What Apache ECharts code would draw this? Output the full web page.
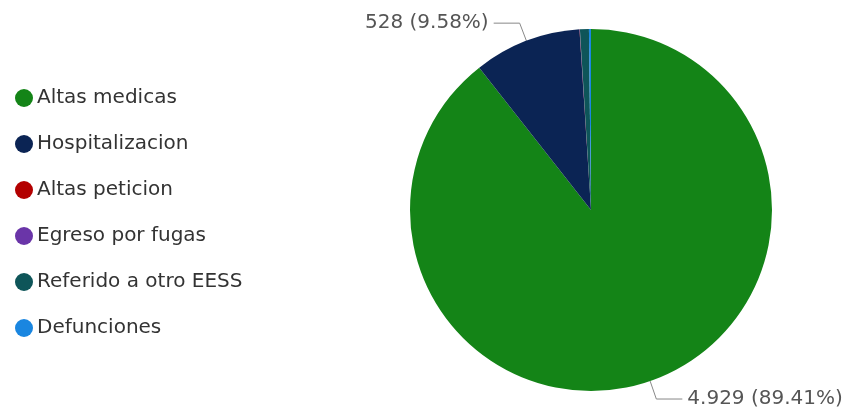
<!DOCTYPE html>
<html><head><meta charset="utf-8">
<script src="https://cdn.jsdelivr.net/npm/echarts@6/dist/echarts.min.js"></script>
<style>html,body{margin:0;padding:0;background:#fff}#c{width:843px;height:408px}</style>
</head><body><div id="c"></div>
<script>
const categories = ['Altas medicas','Hospitalizacion','Altas peticion','Egreso por fugas','Referido a otro EESS','Defunciones'];
const values = [4929, 528, 1, 1, 44, 10];
const colors = ['#148417','#0b2454','#b30000','#6a35a8','#0e5559','#1a86e0'];
const labeled = ['Altas medicas','Hospitalizacion'];

const total = values.reduce((a,b)=>a+b,0);
function fmt(n){return String(n).replace(/\B(?=(\d{3})+(?!\d))/g,'.');}
const data = categories.map((name,i)=>{
  const show = labeled.includes(name);
  return {name, value: values[i], itemStyle:{color:colors[i]},
    label:{show}, labelLine:{show}};
});
const chart = echarts.init(document.getElementById('c'));
chart.setOption({
  animation:false,
  legend:{orient:'vertical', left:10, top:83, itemGap:26, itemWidth:18, itemHeight:18,
    icon:'circle', itemStyle:{borderWidth:0},
    textStyle:{fontSize:20, color:'#333', fontFamily:'"DejaVu Sans"', padding:[0,0,0,-1]},
    data: categories},
  series:[{type:'pie', center:[591,210], radius:[0,181], startAngle:90, clockwise:true,
    data, avoidLabelOverlap:false,
    itemStyle:{borderWidth:0},
    label:{fontSize:20, color:'#555', fontFamily:'"DejaVu Sans"',
      formatter:p=>fmt(p.value)+' ('+(p.value/total*100).toFixed(2)+'%)'},
    labelLine:{length:19, length2:26, lineStyle:{color:'#888', width:1}}
  }]
});
</script></body></html>
